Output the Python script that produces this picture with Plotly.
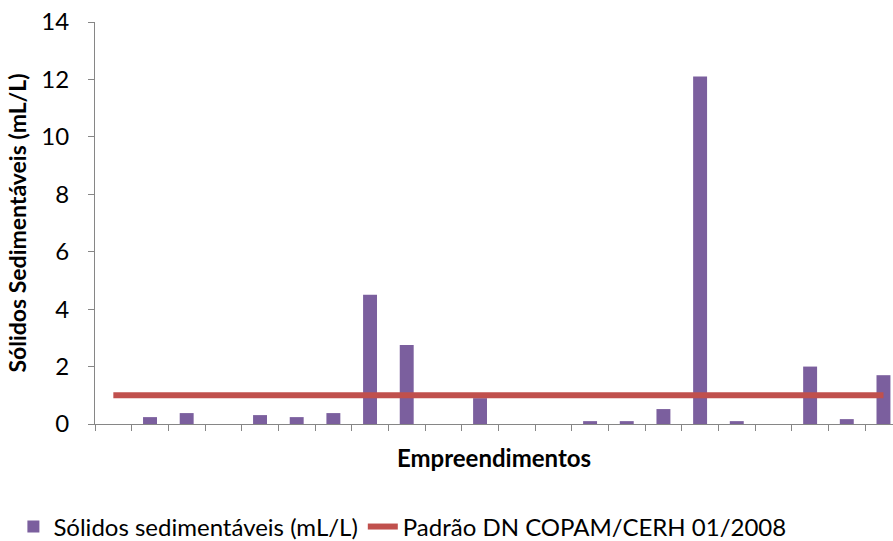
import plotly.graph_objects as go

categories = [str(i) for i in range(1, 23)]
solidos = [0, 0.24, 0.38, 0, 0.31, 0.24, 0.38, 4.5, 2.75, 0, 0.9, 0, 0, 0.1, 0.1, 0.52, 12.1, 0.1, 0, 2.0, 0.17, 1.7]
padrao = [1.0] * 22

FONT = "Lato"
AXIS_COLOR = "#868686"

fig = go.Figure()
fig.add_trace(go.Bar(
    x=categories, y=solidos, name="Sólidos sedimentáveis (mL/L)",
    marker=dict(color="#7B5F9E", line=dict(width=0)),
    width=0.38,
))
fig.add_trace(go.Scatter(
    x=categories, y=padrao, name="Padrão DN COPAM/CERH 01/2008",
    mode="lines", line=dict(color="#C0504D", width=6),
))

fig.update_layout(
    width=893, height=541,
    margin=dict(l=95, r=0, t=22, b=117, autoexpand=False),
    paper_bgcolor="white", plot_bgcolor="white",
    font=dict(family=FONT, size=24, color="#000000"),
    showlegend=True,
    legend=dict(orientation="h", x=0.015, xanchor="left", xref="container",
                y=0.026, yanchor="middle", yref="container",
                font=dict(size=24), traceorder="normal", itemwidth=30),
)
fig.update_xaxes(
    type="category", showticklabels=False, tickson="boundaries",
    ticks="outside", ticklen=6, tickcolor=AXIS_COLOR, tickwidth=1,
    showline=True, linecolor=AXIS_COLOR, linewidth=1, showgrid=False,
    range=[-0.5, 21.26],
    title=dict(text="<b>Empreendimentos</b>", font=dict(size=24), standoff=26),
)
fig.update_yaxes(
    range=[0, 14], dtick=2, tick0=0,
    ticks="outside", ticklen=6, tickcolor=AXIS_COLOR, tickwidth=1,
    showline=True, linecolor=AXIS_COLOR, linewidth=1, showgrid=False,
    zeroline=False, tickfont=dict(size=24), ticklabelstandoff=14,
    title=dict(text="<b>Sólidos Sedimentáveis (mL/L)</b>", font=dict(size=23), standoff=8),
)

fig.write_html("out.html")
